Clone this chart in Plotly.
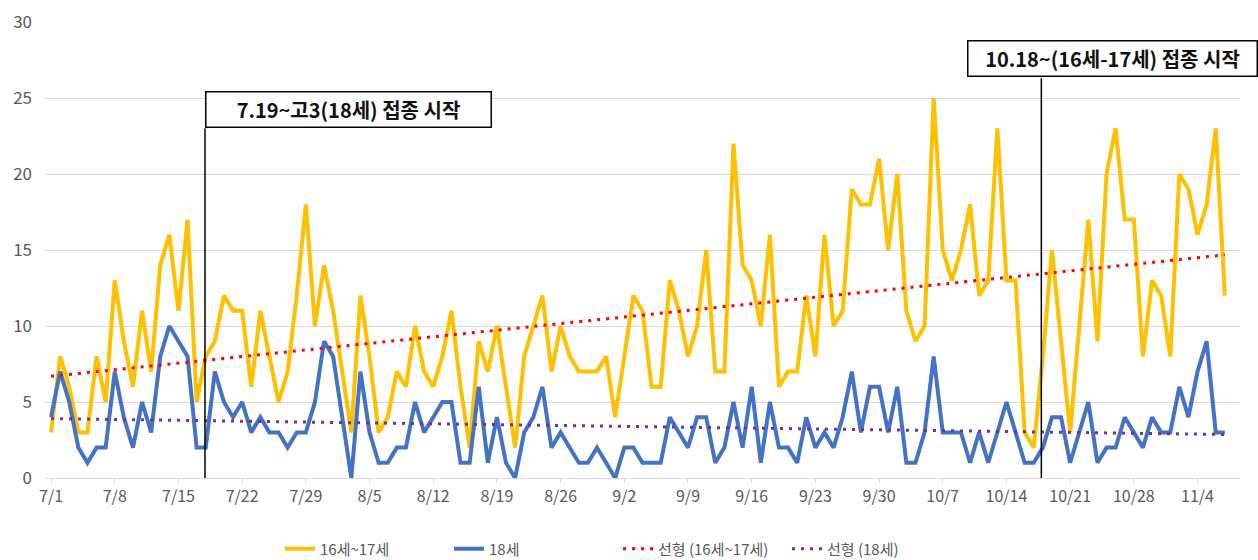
import numpy as np
import pandas as pd
import plotly.graph_objects as go

start_date = "2021-07-01"

age_16_17 = [3, 8, 6, 3, 3, 8, 5, 13, 9, 6, 11, 7, 14, 16, 11, 17, 5, 8, 9, 12,
             11, 11, 6, 11, 8, 5, 7, 12, 18, 10, 14, 11, 7, 3, 12, 8, 3, 4, 7, 6,
             10, 7, 6, 8, 11, 6, 2, 9, 7, 10, 6, 2, 8, 10, 12, 7, 10, 8, 7, 7,
             7, 8, 4, 8, 12, 11, 6, 6, 13, 11, 8, 10, 15, 7, 7, 22, 14, 13, 10, 16,
             6, 7, 7, 12, 8, 16, 10, 11, 19, 18, 18, 21, 15, 20, 11, 9, 10, 25, 15, 13,
             15, 18, 12, 13, 23, 13, 13, 3, 2, 8, 15, 9, 3, 10, 17, 9, 20, 23, 17, 17,
             8, 13, 12, 8, 20, 19, 16, 18, 23, 12]

age_18 = [4, 7, 5, 2, 1, 2, 2, 7, 4, 2, 5, 3, 8, 10, 9, 8, 2, 2, 7, 5,
          4, 5, 3, 4, 3, 3, 2, 3, 3, 5, 9, 8, 4, 0, 7, 3, 1, 1, 2, 2,
          5, 3, 4, 5, 5, 1, 1, 6, 1, 4, 1, 0, 3, 4, 6, 2, 3, 2, 1, 1,
          2, 1, 0, 2, 2, 1, 1, 1, 4, 3, 2, 4, 4, 1, 2, 5, 2, 6, 1, 5,
          2, 2, 1, 4, 2, 3, 2, 4, 7, 3, 6, 6, 3, 6, 1, 1, 3, 8, 3, 3,
          3, 1, 3, 1, 3, 5, 3, 1, 1, 2, 4, 4, 1, 3, 5, 1, 2, 2, 4, 3,
          2, 4, 3, 3, 6, 4, 7, 9, 3, 3]

series_names = ["16세~17세", "18세", "선형 (16세~17세)", "선형 (18세)"]
tick_labels = ["7/1", "7/8", "7/15", "7/22", "7/29", "8/5", "8/12", "8/19", "8/26",
               "9/2", "9/9", "9/16", "9/23", "9/30", "10/7", "10/14", "10/21",
               "10/28", "11/4"]
y_ticks = [0, 5, 10, 15, 20, 25, 30]

event_labels = ["7.19~고3(18세) 접종 시작", "10.18~(16세-17세) 접종 시작"]
event_dates = ["2021-07-17 22:00", "2021-10-17 20:00"]

dates = pd.date_range(start_date, periods=len(age_16_17), freq="D")
idx = np.arange(len(dates))
tick_vals = [pd.Timestamp(f"2021-{t.split('/')[0]}-{t.split('/')[1]}") for t in tick_labels]

c1 = np.polyfit(idx, age_16_17, 1)
c2 = np.polyfit(idx, age_18, 1)
trend1 = np.polyval(c1, idx)
trend2 = np.polyval(c2, idx)

font_family = "Noto Sans CJK KR, Noto Sans, sans-serif"

fig = go.Figure()
fig.add_trace(go.Scatter(x=dates, y=age_16_17, mode="lines", name=series_names[0],
                         line=dict(color="#FFC000", width=4)))
fig.add_trace(go.Scatter(x=dates, y=age_18, mode="lines", name=series_names[1],
                         line=dict(color="#4472C4", width=4)))
fig.add_trace(go.Scatter(x=dates, y=trend1, mode="lines", name=series_names[2],
                         line=dict(color="#FF0000", width=3, dash="3px,6px")))
fig.add_trace(go.Scatter(x=dates, y=trend2, mode="lines", name=series_names[3],
                         line=dict(color="#7030A0", width=3, dash="3px,6px")))

# event lines and boxes
box_tops = [25.45, 28.8]
box_bottoms = [23.0, 26.3]
box_shift = [0, -74]
box_widths = [284, 288]
for lab, d, top, bot, sh, w in zip(event_labels, event_dates, box_tops, box_bottoms, box_shift, box_widths):
    fig.add_shape(type="line", x0=d, x1=d, y0=0, y1=bot, xref="x", yref="y",
                  line=dict(color="black", width=1.5))
    fig.add_annotation(x=d, y=top, xref="x", yref="y", text="<b>" + lab + "</b>",
                       showarrow=False, xanchor="left", yanchor="top", xshift=sh,
                       width=w, height=34, align="center", valign="middle",
                       bgcolor="white", bordercolor="black", borderwidth=1.5, borderpad=0,
                       font=dict(family=font_family, size=20, color="#111111"))

fig.update_layout(
    width=1258, height=560,
    margin=dict(l=45, r=18, t=22, b=82, autoexpand=False),
    plot_bgcolor="white", paper_bgcolor="white",
    font=dict(family=font_family, color="#595959", size=16),
    showlegend=True,
    legend=dict(orientation="h", xref="container", yref="container",
                x=280 / 1258, xanchor="left", y=11 / 560, yanchor="middle",
                entrywidth=124, entrywidthmode="pixels",
                font=dict(size=15, color="#595959"), traceorder="normal"),
    xaxis=dict(range=[pd.Timestamp("2021-06-30 08:00"), pd.Timestamp("2021-11-08 16:00")],
               tickmode="array", tickvals=tick_vals, ticktext=tick_labels,
               showgrid=False, showline=True, linecolor="#D9D9D9", linewidth=1,
               ticks="outside", ticklen=4, tickcolor="#D9D9D9", automargin=False,
               tickfont=dict(size=16, color="#595959"), zeroline=False),
    yaxis=dict(range=[0, 30], tickmode="array", tickvals=y_ticks, automargin=False,
               showgrid=True, gridcolor="#D9D9D9", gridwidth=1, zeroline=False,
               showline=False, ticks="", tickfont=dict(size=17, color="#595959"),
               ticklabelstandoff=12),
)

fig.write_html("out.html", config={"displayModeBar": False},
               post_script="document.body.style.margin='0';document.body.style.overflow='hidden';")
